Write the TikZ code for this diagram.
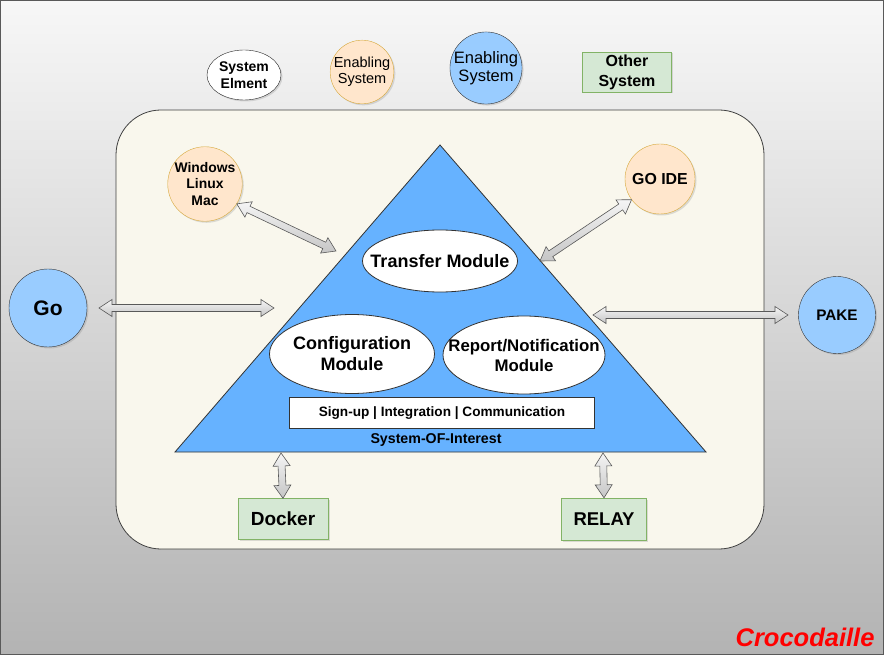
\documentclass[tikz,border=0pt]{standalone}
\usepackage{fontspec}
\setmainfont{Liberation Sans}
\usetikzlibrary{calc,shapes.geometric,shadows}

\definecolor{bgtop}{HTML}{F7F7F7}
\definecolor{bgbottom}{HTML}{B3B3B3}
\definecolor{cream}{HTML}{F9F7ED}
\definecolor{soiblue}{HTML}{66B2FF}
\definecolor{lightblue}{HTML}{99CCFF}
\definecolor{peach}{HTML}{FFE6CC}
\definecolor{peachline}{HTML}{D6A83A}
\definecolor{mint}{HTML}{D5E8D4}
\definecolor{mintline}{HTML}{82B366}

\tikzset{
  shade/.style={drop shadow={shadow xshift=1.5pt, shadow yshift=-1.5pt, opacity=.25}},
  bluecircle/.style={circle, draw=black!80, fill=lightblue, inner sep=0pt, shade},
  peachcircle/.style={circle, draw=peachline, fill=peach, inner sep=0pt, align=center, shade},
  greenbox/.style={rectangle, draw=mintline, fill=mint, inner sep=0pt, align=center, shade},
  moduleshape/.style={draw=black!80, fill=white, line width=0.8pt},
  module/.style={inner sep=0pt, align=center, font=\fontsize{18}{21}\selectfont\bfseries},
  blockarrow/.style={top color=gray!8, bottom color=gray!45, draw=gray!70!black, line width=0.6pt}
}

% double headed block arrow between two points
\newcommand{\dualarrow}[2]{%
  \coordinate (da1) at ($(#1)!13pt!(#2)$);
  \coordinate (da2) at ($(#2)!13pt!(#1)$);
  \path[blockarrow] (#1) -- ($(da1)!8.5pt!-90:(#2)$) -- ($(da1)!3.5pt!-90:(#2)$)
    -- ($(da2)!3.5pt!90:(#1)$) -- ($(da2)!8.5pt!90:(#1)$) -- (#2)
    -- ($(da2)!8.5pt!-90:(#1)$) -- ($(da2)!3.5pt!-90:(#1)$)
    -- ($(da1)!3.5pt!90:(#2)$) -- ($(da1)!8.5pt!90:(#2)$) -- cycle;
}

\begin{document}
\begin{tikzpicture}[x=1pt, y=-1pt]
    % Background
    \useasboundingbox (0,0) rectangle (884,655);
    \fill[top color=bgtop, bottom color=bgbottom] (0,0) rectangle (884,655);
    \draw[black!65, line width=1pt] (0.5,0.5) rectangle (883.5,654.5);
    \draw[black!75, fill=cream, rounded corners=45pt, line width=0.8pt] (116,110) rectangle (764,549);

    % Triangle
    \coordinate (apex) at (440,145);
    \coordinate (baseleft) at (175,452);
    \coordinate (baseright) at (706,452);
    \draw[black!80, fill=soiblue, line width=0.8pt] (apex) -- (baseright) -- (baseleft) -- cycle;

    % Legend
    \node[ellipse, draw=black!85, fill=white, inner sep=0pt, minimum width=74pt, minimum height=50pt,
          align=center, font=\fontsize{14}{17}\selectfont\bfseries, shade] (element) at (244,75) {System\\Elment};
    \node[peachcircle, minimum size=60pt, font=\fontsize{14.5}{16}\selectfont] (enablingA) at (362,72) {Enabling\\System};
    \node[bluecircle, minimum size=72pt, align=center, font=\fontsize{16.5}{18}\selectfont] (enablingB) at (486,68) {Enabling\\System};
    \node[greenbox, minimum width=89pt, minimum height=40pt, font=\fontsize{16}{20}\selectfont\bfseries] (other) at (627,72) {Other\\System};

    % Modules
    \draw[moduleshape] (440,261) ellipse [x radius=77.5, y radius=31];
    \draw[moduleshape] (352,354) ellipse [x radius=82.5, y radius=39.5];
    \draw[moduleshape] (524,355) ellipse [x radius=81, y radius=39];
    \node[module] (transfer) at (440,261) {Transfer Module};
    \node[module] (config) at (352,354) {Configuration\\Module};
    \node[module, font=\fontsize{16.8}{20}\selectfont\bfseries] (report) at (524,355) {Report/Notification\\Module};
    \node[rectangle, draw=black!80, fill=white, minimum width=305pt, minimum height=31pt,
          font=\fontsize{13.6}{15}\selectfont\bfseries] (signup) at (442,413) {Sign-up | Integration | Communication};
    \node[font=\fontsize{14.2}{16}\selectfont\bfseries] (soi) at (436,440) {System-OF-Interest};

    % Nodes
    \node[peachcircle, minimum size=74pt, font=\fontsize{13.9}{16.5}\selectfont\bfseries] (platform) at (205,184) {Windows\\Linux\\Mac};
    \node[peachcircle, minimum size=70pt, font=\fontsize{15.9}{18}\selectfont\bfseries] (goide) at (660,179) {GO IDE};
    \node[bluecircle, minimum size=78pt, font=\fontsize{21}{24}\selectfont\bfseries] (go) at (48,308) {Go};
    \node[bluecircle, minimum size=77pt, font=\fontsize{15.3}{18}\selectfont\bfseries] (pake) at (837,315) {PAKE};
    \node[greenbox, minimum width=90pt, minimum height=41pt, font=\fontsize{19}{22}\selectfont\bfseries] (docker) at (283,519) {Docker};
    \node[greenbox, minimum width=85pt, minimum height=42pt, font=\fontsize{18.5}{22}\selectfont\bfseries] (relay) at (604,519) {RELAY};

    % Arrows
    \coordinate (platformend) at (336,251);
    \coordinate (goideend) at (540,261);
    \coordinate (gostart) at (99,308);
    \coordinate (goend) at (274,308);
    \coordinate (pakestart) at (593,315);
    \coordinate (pakeend) at (788,315);
    \coordinate (dockerend) at (281,453);
    \coordinate (relayend) at (603,453);
    \dualarrow{platform.-32}{platformend}
    \dualarrow{goideend}{goide.216}
    \dualarrow{gostart}{goend}
    \dualarrow{pakestart}{pakeend}
    \dualarrow{dockerend}{docker.north}
    \dualarrow{relayend}{relay.north}

    % Signature
    \node[anchor=east, text=red, font=\fontsize{25.5}{28}\selectfont\bfseries\itshape] (brand) at (878,637) {Crocodaille};
\end{tikzpicture}
\end{document}
